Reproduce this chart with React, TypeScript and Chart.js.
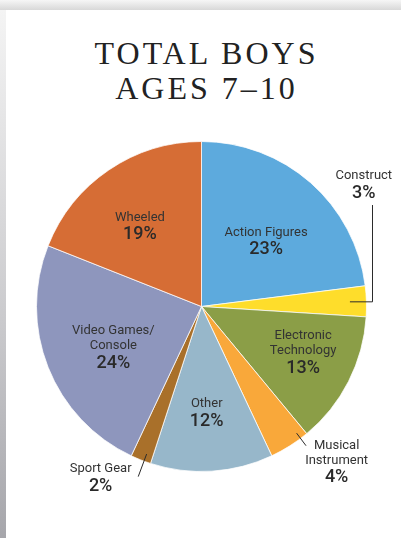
import React, { useEffect, useRef } from "react";
import { Chart, registerables } from "chart.js";

Chart.register(...registerables);

// ---- data ----
const categories = [
  "Action Figures",
  "Construct",
  "Electronic Technology",
  "Musical Instrument",
  "Other",
  "Sport Gear",
  "Video Games/ Console",
  "Wheeled",
];
const labelLines = [
  ["Action Figures"],
  ["Construct"],
  ["Electronic", "Technology"],
  ["Musical", "Instrument"],
  ["Other"],
  ["Sport Gear"],
  ["Video Games/", "Console"],
  ["Wheeled"],
];
const shares = [23, 3, 13, 4, 12, 2, 24, 19];
const sliceColors = [
  "#5DAADD",
  "#FEDD2B",
  "#8B9E47",
  "#F9A83A",
  "#97B7CA",
  "#A9702A",
  "#8E96BD",
  "#D66D35",
];
const titleLines = ["TOTAL BOYS", "AGES 7–10"];

// ---- label layout (style only) ----
type Spec =
  | { kind: "inside"; rf: number; da: number }
  | { kind: "radial"; da: number; r0: number; r1: number; dx: number; dy: number }
  | { kind: "elbow"; r0: number; gap: number; rise: number; dx: number; dy: number };

const labelSpecs: Spec[] = [
  { kind: "inside", rf: 0.557, da: 3.2 },
  { kind: "elbow", r0: 0.9, gap: 6, rise: 0.615, dx: -8.7, dy: -20.3 },
  { kind: "inside", rf: 0.675, da: -2.9 },
  { kind: "radial", da: -4.5, r0: 0.96, r1: 1.055, dx: 30.6, dy: 15.9 },
  { kind: "inside", rf: 0.646, da: 0.8 },
  { kind: "radial", da: -1.2, r0: 0.954, r1: 1.1, dx: -37.6, dy: 1.3 },
  { kind: "inside", rf: 0.588, da: -3.1 },
  { kind: "inside", rf: 0.614, da: -3.2 },
];

const NAME_FONT = "400 13px Roboto, 'Noto Sans', sans-serif";
const PCT_FONT = "500 18px Roboto, 'Noto Sans', sans-serif";
const NAME_GAP = 15;
const PCT_GAP = 17.5;

const deg = (d: number) => (d * Math.PI) / 180;

const labelPlugin = {
  id: "sliceLabels",
  afterDatasetsDraw(chart: any) {
    const ctx: CanvasRenderingContext2D = chart.ctx;
    const meta = chart.getDatasetMeta(0);
    const values = chart.data.datasets[0].data as number[];
    meta.data.forEach((arc: any, i: number) => {
      const p = arc.getProps(["x", "y", "startAngle", "endAngle", "outerRadius"], true);
      const mid = (p.startAngle + p.endAngle) / 2;
      const R = p.outerRadius;
      const pol = (a: number, r: number) => ({ x: p.x + Math.cos(a) * r, y: p.y + Math.sin(a) * r });
      const spec = labelSpecs[i];
      let cx = 0;
      let cy = 0;
      ctx.save();
      ctx.strokeStyle = "#2b2b2b";
      ctx.lineWidth = 1;
      if (spec.kind === "inside") {
        const c = pol(mid + deg(spec.da), R * spec.rf);
        cx = c.x;
        cy = c.y;
      } else if (spec.kind === "radial") {
        const a = mid + deg(spec.da);
        const s = pol(a, R * spec.r0);
        const e = pol(a, R * spec.r1);
        ctx.beginPath();
        ctx.moveTo(s.x, s.y);
        ctx.lineTo(e.x, e.y);
        ctx.stroke();
        cx = e.x + spec.dx;
        cy = e.y + spec.dy;
      } else {
        const s = pol(mid, R * spec.r0);
        const ex = p.x + R + spec.gap;
        const ty = p.y - R * spec.rise;
        ctx.beginPath();
        ctx.moveTo(s.x, s.y);
        ctx.lineTo(ex, s.y);
        ctx.lineTo(ex, ty);
        ctx.stroke();
        cx = ex + spec.dx;
        cy = ty + spec.dy;
      }
      const names = labelLines[i];
      const span = (names.length - 1) * NAME_GAP + PCT_GAP;
      let y = cy - span / 2;
      ctx.textAlign = "center";
      ctx.textBaseline = "middle";
      ctx.fillStyle = "#333333";
      ctx.font = NAME_FONT;
      names.forEach((t, k) => {
        ctx.fillText(t, cx, y);
        if (k < names.length - 1) y += NAME_GAP;
      });
      y += PCT_GAP;
      ctx.font = PCT_FONT;
      ctx.fillStyle = "#2a2a2a";
      ctx.fillText(values[i] + "%", cx, y);
      ctx.restore();
    });
  },
};

export default function App() {
  const ref = useRef<HTMLCanvasElement>(null);

  useEffect(() => {
    if (!ref.current) return;
    const chart = new Chart(ref.current, {
      type: "pie",
      data: {
        labels: categories,
        datasets: [
          {
            data: shares,
            backgroundColor: sliceColors,
            borderColor: "rgba(255,255,255,0.75)",
            borderWidth: 1,
          },
        ],
      },
      options: {
        responsive: false,
        animation: false,
        devicePixelRatio: 1,
        layout: { padding: { top: 141, bottom: 66, left: 36, right: 34 } },
        plugins: {
          legend: { display: false },
          tooltip: { enabled: false },
          title: { display: false },
        },
      },
      plugins: [labelPlugin],
    });
    return () => chart.destroy();
  }, []);

  return (
    <div
      style={{
        position: "absolute",
        left: 0,
        top: 0,
        width: 401,
        height: 538,
        background: "#ffffff",
        overflow: "hidden",
      }}
    >
      <div
        style={{
          position: "absolute",
          left: 0,
          top: 0,
          width: 401,
          height: 10,
          background: "linear-gradient(180deg, #f6f6f6 0%, #d8d8d8 100%)",
        }}
      />
      <div
        style={{
          position: "absolute",
          left: 0,
          top: 10,
          width: 6,
          height: 528,
          background: "linear-gradient(180deg, #f4f4f4 0%, #c9c9cc 60%, #a6a6ab 100%)",
        }}
      />
      <div
        style={{
          position: "absolute",
          left: 6,
          top: 36,
          width: 395,
          textAlign: "center",
          fontFamily: "'Liberation Serif', 'DejaVu Serif', serif",
          fontSize: 32,
          lineHeight: "35px",
          letterSpacing: 3,
          paddingLeft: 3,
          color: "#222222",
        }}
      >
        {titleLines.map((t) => (
          <div key={t}>{t}</div>
        ))}
      </div>
      <canvas
        ref={ref}
        width={401}
        height={538}
        style={{ position: "absolute", left: 0, top: 0, width: 401, height: 538 }}
      />
    </div>
  );
}
